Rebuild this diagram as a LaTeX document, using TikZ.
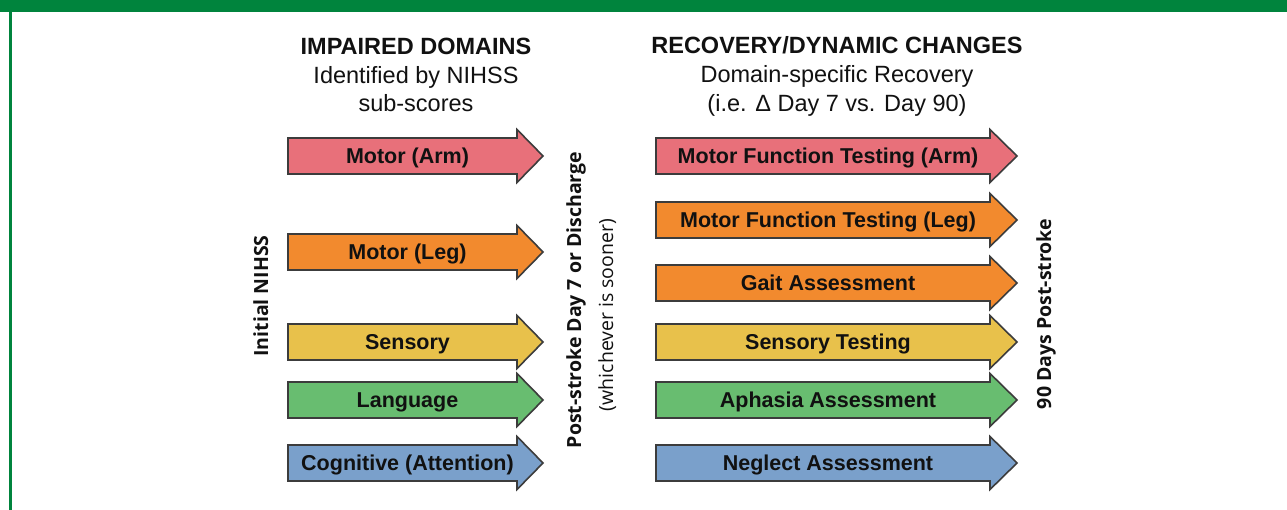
\documentclass[tikz,border=0pt]{standalone}
\usepackage{fontspec}
\setmainfont{Liberation Sans}
\newfontfamily\osans{Open Sans}
\definecolor{cred}{HTML}{E8707A}
\definecolor{corange}{HTML}{F28A2E}
\definecolor{cyellow}{HTML}{E8C14B}
\definecolor{cgreen}{HTML}{68BD70}
\definecolor{cblue}{HTML}{7AA0CB}
\definecolor{arrowline}{HTML}{3C3C3C}
\definecolor{framegreen}{HTML}{00843D}
\definecolor{ink}{HTML}{111111}
\tikzset{
  arrowbox/.style={draw=arrowline, line width=1.6pt, line join=miter},
  lbl/.style={font=\fontsize{21.5}{24}\selectfont\bfseries, text=ink, inner sep=0pt, text height=15.4pt, text depth=0pt},
  ttl/.style={font=\fontsize{23.5}{26}\selectfont\bfseries, text=ink, anchor=base, inner sep=0pt},
  subttl/.style={font=\fontsize{23.5}{26}\selectfont, text=ink, anchor=base, inner sep=0pt},
  vlab/.style={font=\osans\fontsize{19.5}{22}\selectfont\bfseries, text=ink, rotate=90, anchor=base, inner sep=0pt},
  vsub/.style={font=\osans\fontsize{19.5}{22}\selectfont, text=ink, rotate=90, anchor=base, inner sep=0pt}
}
\newcommand\domarrow[7]{%
  \path[arrowbox,fill=#6] (#2,#5-18) -- (#3,#5-18) -- (#3,#5-26.5) -- (#4,#5) -- (#3,#5+26.5) -- (#3,#5+18) -- (#2,#5+18) -- cycle;
  \node[lbl] (#1) at ({(#2+#3)/2+5},#5) {#7};}
\begin{document}
\begin{tikzpicture}[x=1pt,y=-1pt]
\useasboundingbox (0,0) rectangle (1287,510);
\fill[white] (0,0) rectangle (1287,510);
\fill[framegreen] (0,0) rectangle (1287,12);
\fill[framegreen] (9,0) rectangle (12,510);

% titles
\node[ttl] (t1) at (416,55) {IMPAIRED DOMAINS};
\node[subttl] (s1a) at (416,84) {Identified by NIHSS};
\node[subttl] (s1b) at (416,112) {sub-scores};
\node[ttl] (t2) at (837,54) {RECOVERY/DYNAMIC CHANGES};
\node[subttl] (s2a) at (837,83) {Domain-specific Recovery};
\node[subttl] (s2b) at (837,112) {(i.e. Δ Day 7 vs. Day 90)};

% left column
\domarrow{a1}{288}{517}{543}{156}{cred}{Motor (Arm)}
\domarrow{a2}{288}{517}{543}{252}{corange}{Motor (Leg)}
\domarrow{a3}{288}{517}{543}{342}{cyellow}{Sensory}
\domarrow{a4}{288}{517}{543}{400}{cgreen}{Language}
\domarrow{a5}{288}{517}{543}{463}{cblue}{Cognitive (Attention)}

% right column
\domarrow{b1}{656}{990}{1017}{156}{cred}{Motor Function Testing (Arm)}
\domarrow{b2}{656}{990}{1017}{220}{corange}{Motor Function Testing (Leg)}
\domarrow{b3}{656}{990}{1017}{283}{corange}{Gait Assessment}
\domarrow{b4}{656}{990}{1017}{342}{cyellow}{Sensory Testing}
\domarrow{b5}{656}{990}{1017}{400}{cgreen}{Aphasia Assessment}
\domarrow{b6}{656}{990}{1017}{463}{cblue}{Neglect Assessment}

% vertical labels
\node[vlab] (v1) at (268,296) {Initial NIHSS};
\node[vlab] (v2) at (581,300) {Post-stroke Day 7 or Discharge};
\node[vsub] (v3) at (613,315) {(whichever is sooner)};
\node[vlab] (v4) at (1051,314) {90 Days Post-stroke};
\end{tikzpicture}
\end{document}
